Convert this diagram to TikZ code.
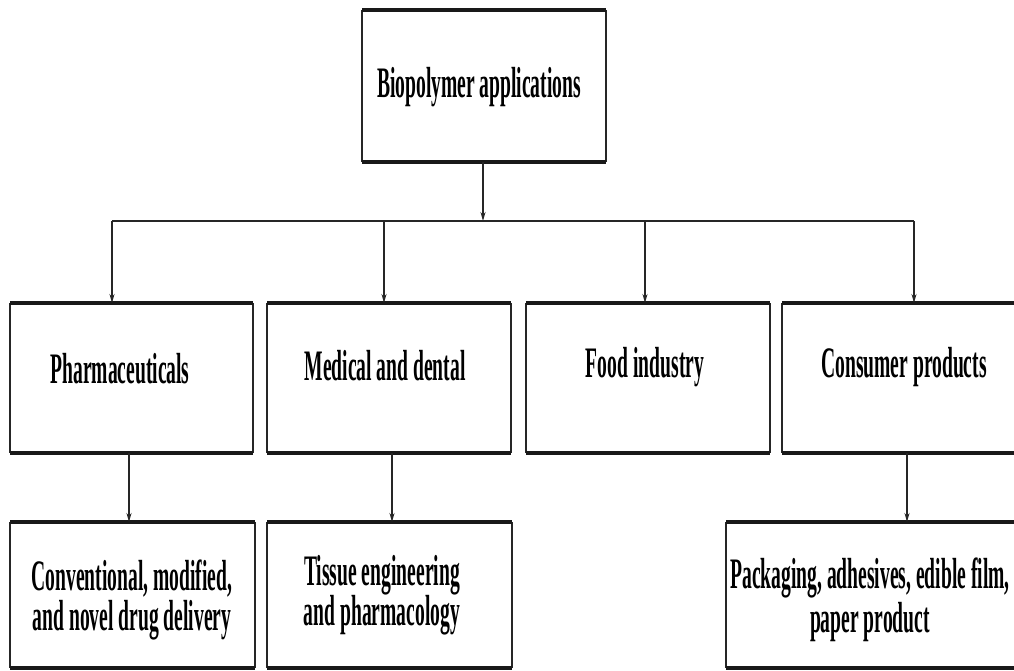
\documentclass[tikz,border=0pt]{standalone}
\usepackage{fontspec}
\newfontfamily\lblfont[FakeStretch=0.45]{Liberation Serif}
\usetikzlibrary{arrows.meta}
\begin{document}
\begin{tikzpicture}[x=1pt,y=-1pt,
  box/.style={draw=none,rectangle,inner sep=0pt,outer sep=0pt},
  sideline/.style={line width=1.6pt,draw=black!85},
  edgeline/.style={line width=3.6pt,draw=black!90},
  conn/.style={line width=1.3pt,draw=black!85},
  arr/.style={conn,-{Stealth[length=9pt,width=5pt]}},
  lbl/.style={inner sep=0pt,font=\lblfont\bfseries\fontsize{43.5}{40}\selectfont,align=center}]
\useasboundingbox (0,0) rectangle (1014,670);
% boxes
\node[box,minimum width=244pt,minimum height=152pt] (top) at (484,86) {};
\node[box,minimum width=243pt,minimum height=150pt] (ph) at (131.5,378) {};
\node[box,minimum width=244pt,minimum height=150pt] (md) at (389,378) {};
\node[box,minimum width=244pt,minimum height=150pt] (fd) at (648,378) {};
\node[box,minimum width=260pt,minimum height=150pt] (cp) at (912,378) {};
\node[box,minimum width=245pt,minimum height=146pt] (cv) at (132.5,595) {};
\node[box,minimum width=245pt,minimum height=146pt] (ts) at (389.5,595) {};
\node[box,minimum width=300pt,minimum height=146pt] (pk) at (876,595) {};
\foreach \n in {top,ph,md,fd,cp,cv,ts,pk}{
  \draw[sideline] (\n.north west) -- (\n.south west) (\n.north east) -- (\n.south east);
  \draw[edgeline] (\n.north west) -- (\n.north east) (\n.south west) -- (\n.south east);
}
% labels
\node[lbl,anchor=base] (tbio) at (479,97) {Biopolymer applications};
\node[lbl,anchor=base] (tph) at (120,383) {Pharmaceuticals};
\node[lbl,anchor=base] (tmd) at (385,380) {Medical and dental};
\node[lbl,anchor=base] (tfd) at (645,377) {Food industry};
\node[lbl,anchor=base] (tcp) at (904,377) {Consumer products};
\node[lbl] (tcv) at (132,600) {Conventional, modified,\\and novel drug delivery};
\node[lbl] (tts) at (382,595) {Tissue engineering\\and pharmacology};
\node[lbl,font=\lblfont\bfseries\fontsize{43.5}{44}\selectfont] (tpk) at (870,600) {Packaging, adhesives, edible film,\\paper product};
% connectors
\coordinate (hb) at (483,221);
\coordinate (j1) at (112,221);
\coordinate (j2) at (384,221);
\coordinate (j3) at (645,221);
\coordinate (j4) at (914,221);
\draw[arr] (top.south -| hb) -- (hb);
\draw[conn] (j1) -- (j4);
\draw[arr] (j1) -- (j1 |- ph.north);
\draw[arr] (j2) -- (j2 |- md.north);
\draw[arr] (j3) -- (j3 |- fd.north);
\draw[arr] (j4) -- (j4 |- cp.north);
\coordinate (b1) at (129,0);
\coordinate (b2) at (392,0);
\coordinate (b3) at (907,0);
\draw[arr] (b1 |- ph.south) -- (b1 |- cv.north);
\draw[arr] (b2 |- md.south) -- (b2 |- ts.north);
\draw[arr] (b3 |- cp.south) -- (b3 |- pk.north);
\end{tikzpicture}
\end{document}
